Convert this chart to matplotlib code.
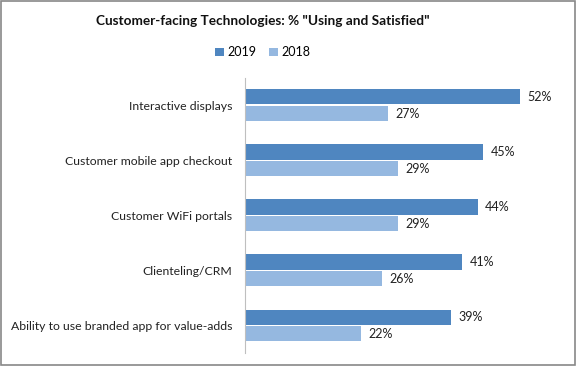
import numpy as np
import matplotlib.pyplot as plt
from matplotlib.patches import Rectangle

plt.rcParams['font.family'] = ['Lato', 'DejaVu Sans']

# data
categories = ['Interactive displays', 'Customer mobile app checkout',
              'Customer WiFi portals', 'Clienteling/CRM',
              'Ability to use branded app for value-adds']
vals_2019 = [52, 45, 44, 41, 39]
vals_2018 = [27, 29, 29, 26, 22]

c2019 = '#4F86C0'
c2018 = '#95B8E0'

fig = plt.figure(figsize=(5.76, 3.66), dpi=100)
ax = fig.add_axes([0.4248, 0.0355, 0.552, 0.752])

y = np.arange(len(categories))
h = 0.275
gap = 0.03
b1 = ax.barh(y - h / 2 - gap / 2, vals_2019, height=h, color=c2019, label='2019')
b2 = ax.barh(y + h / 2 + gap / 2, vals_2018, height=h, color=c2018, label='2018')

for bars in (b1, b2):
    for r in bars:
        ax.text(r.get_width() + 1.4, r.get_y() + r.get_height() / 2,
                '%d%%' % r.get_width(), va='center', ha='left',
                fontsize=9, color='#222222')

ax.set_xlim(0, 60)
ax.set_ylim(len(categories) - 0.5, -0.5)
ax.set_yticks(y)
ax.set_yticklabels(categories, fontsize=8.8, color='#222222')
ax.tick_params(axis='y', length=0, pad=9)
ax.set_xticks([])
for s in ('top', 'right', 'bottom'):
    ax.spines[s].set_visible(False)
ax.spines['left'].set_color('#BFBFBF')

fig.text(0.456, 0.943, 'Customer-facing Technologies: % "Using and Satisfied"',
         ha='center', va='center', fontsize=9.8, fontweight='bold',
         color='#111111')
fig.legend(handles=[b1, b2], loc='center', bbox_to_anchor=(0.456, 0.857),
           ncol=2, frameon=False, fontsize=9, handlelength=0.7,
           handleheight=0.7, handletextpad=0.3, columnspacing=1.0)

# outer chart border
fig.patches.append(Rectangle((0.001, 0.002), 0.997, 0.995, transform=fig.transFigure,
                             fill=False, edgecolor='#888888', linewidth=1.2))

fig.savefig('out.png', dpi=100)
